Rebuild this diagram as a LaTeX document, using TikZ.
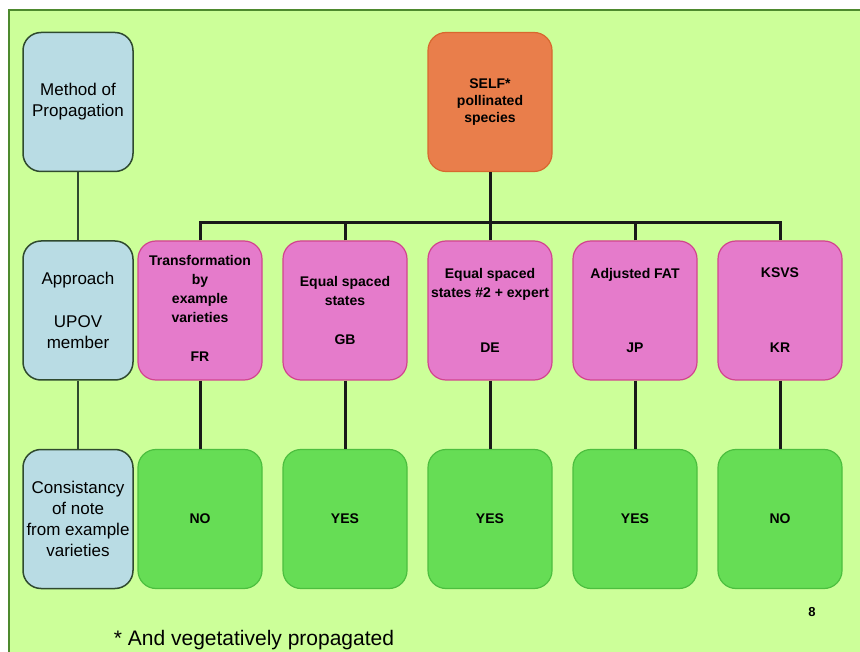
\documentclass[tikz,border=0pt]{standalone}
\usepackage{fontspec}
\setmainfont{Liberation Sans}
\definecolor{slidebg}{HTML}{CCFF99}
\definecolor{frameline}{HTML}{4E8A2E}
\definecolor{catfill}{HTML}{B9DCE4}
\definecolor{catline}{HTML}{2F4A2F}
\definecolor{rootfill}{HTML}{E97E4B}
\definecolor{rootline}{HTML}{D8682F}
\definecolor{appfill}{HTML}{E57BCB}
\definecolor{appline}{HTML}{D2448F}
\definecolor{resfill}{HTML}{66DD55}
\definecolor{resline}{HTML}{4CBF3F}
\begin{document}
\begin{tikzpicture}[x=1pt,y=-1pt,
		catbox/.style={draw=catline,fill=catfill,line width=1.5pt,rounded corners=18pt,minimum width=110pt,minimum height=139pt,inner sep=0pt,align=center,font=\fontsize{17}{21}\selectfont},
		rootbox/.style={draw=rootline,fill=rootfill,line width=1.2pt,rounded corners=18pt,minimum width=124pt,minimum height=139pt,inner sep=0pt,align=center,font=\fontsize{14}{17}\selectfont\bfseries},
		appbox/.style={draw=appline,fill=appfill,line width=1.2pt,rounded corners=18pt,minimum width=124pt,minimum height=139pt},
		resbox/.style={draw=resline,fill=resfill,line width=1.2pt,rounded corners=18pt,minimum width=124pt,minimum height=139pt,font=\fontsize{14}{17}\selectfont\bfseries},
		apptext/.style={inner sep=0pt,align=center,font=\fontsize{14}{19}\selectfont\bfseries},
		thinlink/.style={draw=catline,line width=1.5pt},
		thicklink/.style={draw=black!90,line width=3pt}]
	\useasboundingbox (0,0) rectangle (860,652);
	%Slide background
	\fill[white] (0,0) rectangle (860,652);
	\fill[slidebg] (9,10) rectangle (860,652);
	\draw[frameline,line width=2pt] (9,652) -- (9,10) -- (860,10);
	%Left column with the headings of the rows
	\node[catbox] (cat1) at (78,102) {Method of\\Propagation};
	\node[catbox] (cat2) at (78,310.5) {Approach\\[22pt]UPOV\\member};
	\node[catbox] (cat3) at (78,519) {Consistancy\\of note\\from example\\varieties};
	\draw[thinlink] (cat1) -- (cat2);
	\draw[thinlink] (cat2) -- (cat3);
	%Top of the tree
	\node[rootbox] (self) at (490,102) {SELF*\\pollinated\\species};
	%Approaches and their results
	\foreach \i/\x/\res in {1/200/NO,2/345/YES,3/490/YES,4/635/YES,5/780/NO} {
		\node[appbox] (app\i) at (\x,310.5) {};
		\node[resbox] (res\i) at (\x,519) {\res};
		\draw[thicklink] (app\i) -- (res\i);
	}
	%Texts in the approach boxes
	\node[apptext,anchor=north] (name1) at (200,255) {Transformation\\by\\example\\varieties};
	\node[apptext,anchor=north] (name2) at (345,276) {Equal spaced\\states};
	\node[apptext,anchor=north] (name3) at (490,268) {Equal spaced\\states \#2 + expert};
	\node[apptext,anchor=north] (name4) at (635,268) {Adjusted FAT};
	\node[apptext,anchor=north] (name5) at (780,268) {KSVS};
	\node[apptext,anchor=base] (code1) at (200,362) {FR};
	\node[apptext,anchor=base] (code2) at (345,345) {GB};
	\node[apptext,anchor=base] (code3) at (490,353) {DE};
	\node[apptext,anchor=base] (code4) at (635,353) {JP};
	\node[apptext,anchor=base] (code5) at (780,353) {KR};
	%Branches from the top
	\coordinate (bus) at (490,223);
	\draw[thicklink] (self) -- (bus);
	\draw[thicklink] (app1.north) |- (bus) -| (app5.north);
	\foreach \i in {2,3,4} {
		\draw[thicklink] (app\i.north) -- (app\i.north |- bus);
	}
	%Footnote and page number
	\node[anchor=base,font=\fontsize{21}{25}\selectfont] (note) at (254,645) {* And vegetatively propagated};
	\node[font=\fontsize{13}{15}\selectfont\bfseries] (pagenum) at (812,612) {8};
\end{tikzpicture}
\end{document}
